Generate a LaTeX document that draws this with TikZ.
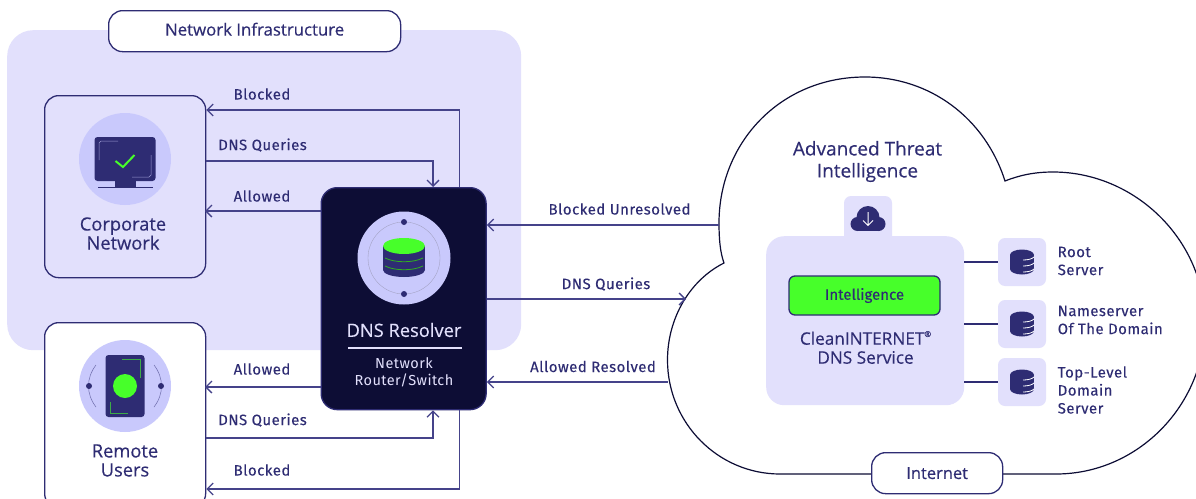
\documentclass[tikz,border=0pt]{standalone}
\usepackage{fontspec}
\setmainfont{Fira Sans}
\newfontfamily\headfont[FakeBold=0.35]{Open Sans}
\usetikzlibrary{arrows.meta}
\definecolor{navy}{HTML}{2E2C73}
\definecolor{wirecol}{HTML}{45438A}
\definecolor{ink}{HTML}{0D0D35}
\definecolor{lilac}{HTML}{E2E0FC}
\definecolor{disc}{HTML}{C9C9FC}
\definecolor{lime}{HTML}{47FF2A}
\tikzset{
 wire/.style={draw=wirecol, line width=1.3pt},
 tip/.style={-{Straight Barb[length=6pt,width=12pt,line width=1.3pt]}},
 holder/.style={draw=navy, line width=1.3pt, rounded corners=14pt, anchor=north west, inner sep=0pt},
 tag/.style={font=\fontsize{15}{18}\selectfont\addfontfeature{LetterSpace=3,FakeBold=0.12}, text=navy, inner sep=0pt},
 head/.style={font=\headfont\fontsize{18.3}{19}\selectfont, text=navy, align=center, inner sep=0pt},
 srvbox/.style={fill=lilac, rounded corners=7pt, minimum width=48pt, minimum height=48pt, inner sep=0pt},
 dbpic/.pic={
 \fill[navy] (-12,-7) rectangle (12,7);
 \fill[navy] (0,-7) ellipse[x radius=12pt, y radius=5.5pt];
 \fill[navy] (0,7) ellipse[x radius=12pt, y radius=5.5pt];
 \draw[white, line width=.8pt] (1,-2) .. controls (6,-2) and (10,-3) .. (12,-5);
 \draw[white, line width=.8pt] (1,4) .. controls (6,4) and (10,3) .. (12,1);
 \draw[white, line width=.8pt] (1,10) .. controls (6,10) and (10,9) .. (12,7);
 }
}
\begin{document}
\begin{tikzpicture}[x=1pt, y=-1pt]
 \useasboundingbox (0,0) rectangle (1196,498);
 \clip (0,0) rectangle (1196,498);
 \fill[white] (0,0) rectangle (1196,498);

 % left panel
 \node[fill=lilac, rounded corners=26pt, minimum width=514pt, minimum height=320pt, anchor=north west, inner sep=0pt] (infra) at (7,30) {};
 \node[holder, fill=white, minimum width=292pt, minimum height=41pt, head] (infratag) at (108,10) {\raisebox{4pt}{\fontsize{16.8}{18}\selectfont Network Infrastructure}};
 \node[holder, fill=lilac, minimum width=161pt, minimum height=182pt] (corp) at (44,95) {};
 \node[holder, fill=white, minimum width=161pt, minimum height=185pt] (remote) at (44,322) {};

 % cloud
 \draw[fill=white, draw=ink, line width=1.2pt] (1005,181) .. controls (985,118) and (930,77) .. (865,77)
 .. controls (780,77) and (719,143) .. (719,223)
 .. controls (719,238) and (720,252) .. (724,263)
 .. controls (690,280) and (667.5,318) .. (667.5,360)
 .. controls (667.5,423) and (718,474) .. (780,474)
 -- (1056,474)
 .. controls (1138,474) and (1205,405) .. (1205,323)
 .. controls (1205,240) and (1135,172) .. (1053,172)
 .. controls (1035,172) and (1020,175) .. cycle;
 \node[holder, fill=white, minimum width=131pt, minimum height=41pt, head] (internet) at (871,452) {\fontsize{16.5}{18}\selectfont Internet};
 \node[head, font=\headfont\fontsize{19}{22}\selectfont] (threat) at (867.5,161.5) {Advanced Threat\\Intelligence};

 % service
 \node[fill=lilac, rounded corners=7pt, minimum width=48pt, minimum height=50pt, inner sep=0pt] (feed) at (868,221) {};
 \node[fill=lilac, rounded corners=18pt, minimum width=198pt, minimum height=169pt, anchor=north west, inner sep=0pt] (svc) at (766,236) {};
 \node[fill=lime, draw=navy, line width=1.3pt, rounded corners=6pt, minimum width=151pt, minimum height=39pt, inner sep=0pt,
  font=\fontsize{15}{17}\selectfont\addfontfeature{FakeBold=0.12}, text=navy] (intel) at (864.5,295.5) {\raisebox{-1pt}{Intelligence}};
 \node[head, font=\headfont\fontsize{17.2}{19}\selectfont] (clean) at (865.5,347.5) {CleanINTERNET\raisebox{.45em}{\fontsize{8}{8}\selectfont\textregistered}\\DNS Service};
 \fill[navy] (868,217.5) circle (11.5pt) (857.5,224) circle (7pt) (878.5,224) circle (7pt);
 \fill[navy] (857.5,221) rectangle (878.5,231);
 \draw[white, line width=1pt] (868,212) -- (868,225) (863,220.5) -- (868,225.5) -- (873,220.5);

 \foreach \n/\y/\lx/\ly/\txt in {a/262/1057.5/261/{Root\\Server}, b/324/1057.5/320/{Nameserver\\Of The Domain}, c/382/1057.5/390/{Top-Level\\Domain\\Server}}{
 \node[srvbox] (srv\n) at (1022,\y) {};
 \pic at (1022,\y) {dbpic};
 \draw[draw=navy, line width=1.3pt] (svc.east |- srv\n) -- (srv\n.west);
 \node[tag, align=left, anchor=west] (srvtxt\n) at (\lx,\ly) {\txt};
 }

 % resolver
 \node[fill=ink, draw=navy, line width=1.3pt, rounded corners=16pt, minimum width=165pt, minimum height=222pt, anchor=north west, inner sep=0pt] (dns) at (320.5,187) {};
 \fill[disc] (404,258) circle (46.5pt);
 \draw[navy!45, line width=.35pt] (404,258) circle (36pt);
 \fill[navy] (404,222) circle (3pt) (404,294) circle (3pt);
 \fill[navy] (383,246) rectangle (425,270);
 \fill[navy] (404,270) ellipse[x radius=21pt, y radius=7pt];
 \fill[lime] (404,246) ellipse[x radius=21pt, y radius=8pt];
 \draw[lime!70!black, line width=.8pt] (385,258) .. controls (395,263) and (413,263) .. (423,258);
 \draw[lime!70!black, line width=.8pt] (385,266) .. controls (395,271) and (413,271) .. (423,266);
 \node[font=\headfont\fontsize{18.3}{19}\selectfont, text=lilac, inner sep=0pt] (dnstxt) at (404,330) {DNS Resolver};
 \draw[draw=lilac, line width=1.2pt] (348,348) -- (462,348);
 \node[font=\fontsize{14.5}{16.5}\selectfont\addfontfeature{LetterSpace=3}, text=lilac, align=center, inner sep=0pt] (dnssub) at (404,372.5) {Network\\Router/Switch};

 % corporate icon
 \fill[disc] (125,159) circle (46pt);
 \fill[navy, rounded corners=3pt] (94.5,137) rectangle (155.5,181);
 \fill[navy] (115,181) rectangle (136,187);
 \draw[navy, line width=1pt] (98,187.5) -- (153,187.5);
 \draw[disc!70!navy, line width=.5pt] (118,141) -- (101,141) -- (99,143) -- (99,160);
 \draw[disc!70!navy, line width=.5pt] (132,177) -- (149,177) -- (151,175) -- (151,155);
 \draw[lime, line width=2pt] (115.5,161) -- (123,167) -- (134.5,155);
 \node[head] (corptxt) at (123,233.5) {Corporate\\Network};

 % remote icon
 \fill[disc] (125,386) circle (46pt);
 \draw[navy!60!disc, line width=.5pt] (96,365) .. controls (86,378) and (86,394) .. (96,407);
 \draw[navy!60!disc, line width=.5pt] (154,365) .. controls (164,378) and (164,394) .. (154,407);
 \fill[navy] (89,386) circle (3pt) (161,386) circle (3pt);
 \fill[navy, rounded corners=3pt] (105.5,355) rectangle (144.5,417);
 \fill[lime] (125,386) circle (12pt);
 \draw[lime!60!navy, line width=.6pt] (122,359) -- (140,359) -- (140,378);
 \draw[lime!60!navy, line width=.6pt] (128,413) -- (110,413) -- (110,402);
 \node[head] (remotetxt) at (125,460.5) {Remote\\Users};

 % connectors
 \coordinate (blkup) at (459.5,110);
 \coordinate (qryup) at (433,161);
 \coordinate (alwup) at (205,211);
 \coordinate (alwdn) at (205,387);
 \coordinate (qrydn) at (433,438);
 \coordinate (blkdn) at (459.5,489);
 \coordinate (unres) at (719,225);
 \coordinate (qryout) at (686,299);
 \coordinate (resol) at (668,382);
 \draw[wire, tip] (dns.north -| blkup) -- (blkup) -- (corp.east |- blkup);
 \draw[wire, tip] (corp.east |- qryup) -- (qryup) -- (dns.north -| qryup);
 \draw[wire, tip] (dns.west |- alwup) -- (alwup);
 \draw[wire, tip] (dns.west |- alwdn) -- (alwdn);
 \draw[wire, tip] (remote.east |- qrydn) -- (qrydn) -- (dns.south -| qrydn);
 \draw[wire, tip] (dns.south -| blkdn) -- (blkdn) -- (remote.east |- blkdn);
 \draw[wire, tip] (unres) -- (dns.east |- unres);
 \draw[wire, tip] (dns.east |- qryout) -- (qryout);
 \draw[wire, tip] (resol) -- (dns.east |- resol);

 % labels
 \node[tag] (l1) at (262,94) {Blocked};
 \node[tag] (l2) at (262.5,145) {DNS Queries};
 \node[tag] (l3) at (262,196) {Allowed};
 \node[tag] (l4) at (262,369) {Allowed};
 \node[tag] (l5) at (262.5,420) {DNS Queries};
 \node[tag] (l6) at (262,470) {Blocked};
 \node[tag] (l7) at (619.5,209) {Blocked Unresolved};
 \node[tag] (l8) at (606,284) {DNS Queries};
 \node[tag] (l9) at (593,366.5) {Allowed Resolved};
\end{tikzpicture}
\end{document}
